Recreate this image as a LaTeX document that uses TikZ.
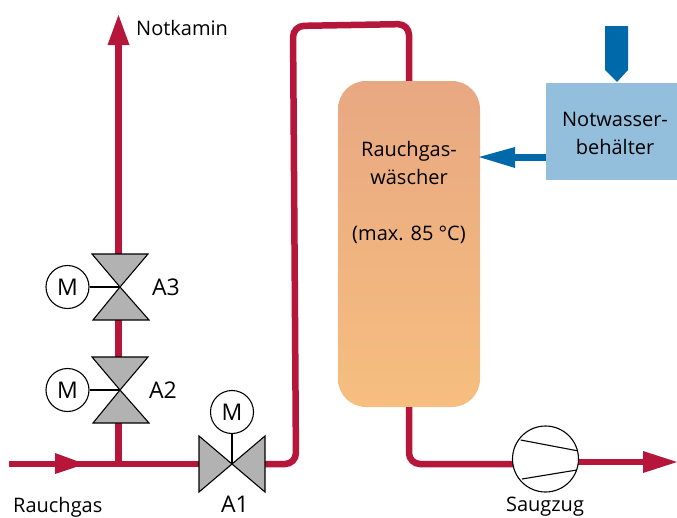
\documentclass[tikz,border=0pt]{standalone}
\usepackage{fontspec}
\setmainfont{Open Sans}
\definecolor{pipered}{HTML}{B5163A}
\definecolor{waterblue}{HTML}{0069AA}
\definecolor{tankblue}{HTML}{93BEDC}
\definecolor{valvegray}{HTML}{B2B2B2}
\definecolor{hottop}{HTML}{E8A882}
\definecolor{hotbottom}{HTML}{F6BE7F}
\tikzset{
	pipe/.style={draw=pipered,line width=6.5pt,rounded corners=11pt},
	motor/.style={circle,draw,fill=white,line width=1.1pt,minimum size=43pt,inner sep=0pt,font=\fontsize{23}{23}\selectfont},
	valvepart/.style={draw,fill=valvegray,line width=1.1pt,line join=miter},
	thin line/.style={line width=1.1pt},
	lbl/.style={inner sep=0pt,font=\fontsize{20}{28}\selectfont},
	tag/.style={inner sep=0pt,font=\fontsize{23}{23}\selectfont}
}
\begin{document}
\begin{tikzpicture}[x=1pt,y=-1pt]
	\useasboundingbox (0,0) rectangle (677,517);

	\coordinate (start) at (9,464);		\coordinate (flow) at (85,464);
	\coordinate (tee) at (118.5,464);	\coordinate (top) at (118.5,15);
	\coordinate (stack) at (118.5,45);
	\coordinate (A3) at (120,287);		\coordinate (A2) at (120,390);
	\coordinate (A1) at (232,464);
	\coordinate (A3up) at (118.5,254);	\coordinate (A3down) at (118.5,320);
	\coordinate (A2up) at (118.5,357);	\coordinate (A2down) at (118.5,423);
	\coordinate (A1in) at (199,464);	\coordinate (A1out) at (265,464);
	\coordinate (c1) at (296,464);		\coordinate (c2) at (293,26);
	\coordinate (c3) at (409,24);		\coordinate (c4) at (409,464);
	\coordinate (fanin) at (530,464);	\coordinate (fanout) at (560,462);
	\coordinate (out) at (677,462);		\coordinate (outbase) at (644,462);
	\coordinate (feed) at (479,157);	\coordinate (feedbase) at (512,157);

	\node [rounded corners=28pt,minimum width=142pt,minimum height=326pt,
		top color=hottop,bottom color=hotbottom] (scrubber) at (409,244) {};
	\node [fill=tankblue,minimum width=131pt,minimum height=97pt,inner sep=0pt] (tank) at (611.5,131.5) {};

	% pipes
	\draw [pipe] (start) -- (A1in);
	\draw [pipe] (tee) -- (A2down);
	\draw [pipe] (A2up) -- (A3down);
	\draw [pipe] (A3up) -- (stack);
	\draw [pipe] (A1out) -- (c1) -- (c2) -- (c3) -- (scrubber.north -| c3);
	\draw [pipe] (scrubber.south -| c4) -- (c4) -- (fanin);
	\fill [pipered] (55,453) -- (flow) -- (55,474) -- cycle;
	\fill [pipered] (107.5,45) -- (top) -- (129.5,45) -- cycle;
	\draw [draw=pipered,line width=6.5pt] (fanout) -- (outbase);
	\fill [pipered] (643,451) -- (out) -- (643,473) -- cycle;
	\node [circle,draw,fill=white,thin line,minimum size=66pt,inner sep=0pt] (fan) at (545.5,459) {};

	% water
	\draw [draw=waterblue,line width=7pt] (tank.west |- feed) -- (feedbase);
	\fill [waterblue] (515,147) -- (feed) -- (515,168) -- cycle;
	\fill [waterblue] (605,26) -- (628,26) -- (628,70) -- (617,82) -- (605,70) -- cycle;

	% valves
	\draw [valvepart] (A3) -- (92,254) -- (148,254) -- cycle;
	\draw [valvepart] (A3) -- (93,320) -- (149,320) -- cycle;
	\draw [valvepart] (A2) -- (92,357) -- (148,357) -- cycle;
	\draw [valvepart] (A2) -- (93,423) -- (149,423) -- cycle;
	\draw [valvepart] (A1) -- (199,436) -- (199,492) -- cycle;
	\draw [valvepart] (A1) -- (265,436) -- (265,492) -- cycle;

	% motors
	\node [motor] (M3) at (67.5,287) {M};
	\node [motor] (M2) at (67.5,390) {M};
	\node [motor] (M1) at (232,412) {M};
	\draw [thin line] (M3) -- (A3);
	\draw [thin line] (M2) -- (A2);
	\draw [thin line] (M1) -- (A1);

	% fan blades
	\draw [thin line] (520.7,440) -- (577,450.7);
	\draw [thin line] (522,479) -- (576.7,470);

	% labels
	\node [lbl,anchor=base west] (notkamin) at (136,35) {Notkamin};
	\node [lbl,anchor=base west] (rauchgas) at (13,512) {Rauchgas};
	\node [lbl,anchor=base] (saugzug) at (545,511.5) {Saugzug};
	\node [lbl,align=center] (scrubbertext) at (409,192) {Rauchgas-\\wäscher\\[28pt](max. 85 °C)};
	\node [lbl,align=center] (tanktext) at (615,133) {Notwasser-\\behälter};
	\node [tag] (tagA3) at (166,287) {A3};
	\node [tag] (tagA2) at (163,390) {A2};
	\node [tag] (tagA1) at (235,504) {A1};
\end{tikzpicture}
\end{document}
